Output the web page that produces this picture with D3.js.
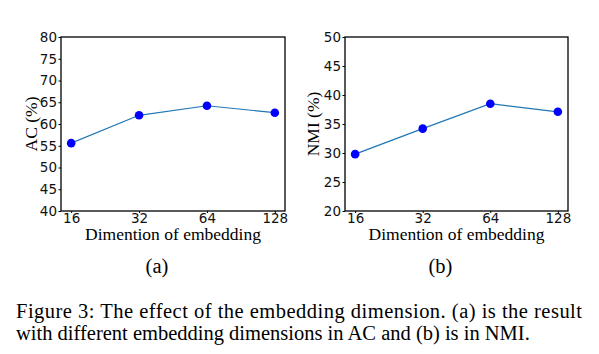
<!DOCTYPE html>
<html>
<head>
<meta charset="utf-8">
<script src="https://cdn.jsdelivr.net/npm/d3@7"></script>
<style>
body { margin: 0; background: #fff; }
svg { display: block; }
</style>
</head>
<body>
<svg id="board" width="599" height="354"></svg>
<script>
board = d3.select('#board')

// data
dims = ['16', '32', '64', '128'];
ac_values = [55.6, 62.0, 64.2, 62.6];
nmi_values = [29.8, 34.2, 38.5, 37.1];
ac_ticks = [40, 45, 50, 55, 60, 65, 70, 75, 80];
nmi_ticks = [20, 25, 30, 35, 40, 45, 50];

panels = [
    {values: ac_values, ticks: ac_ticks, ylabel: 'AC (%)', sub: '(a)',
     left: 61, right: 285, top: 37, bottom: 211, labelx: 36.5},
    {values: nmi_values, ticks: nmi_ticks, ylabel: 'NMI (%)', sub: '(b)',
     left: 345, right: 568, top: 37, bottom: 211, labelx: 319}
];

panels.forEach(function(p){
    g = board.append('g');
    ticks = p.ticks;
    x = d3.scaleLinear().domain([-0.15, dims.length - 1 + 0.15]).range([p.left, p.right]);
    y = d3.scaleLinear().domain([ticks[0], ticks[ticks.length-1]]).range([p.bottom, p.top]);

    yAxis = g.append('g')
        .attr('transform', `translate(${p.left},0)`)
        .call(d3.axisLeft(y).tickValues(ticks).tickSize(2.5).tickPadding(1.5));
    xAxis = g.append('g')
        .attr('transform', `translate(0,${p.bottom})`)
        .call(d3.axisBottom(x).tickValues(d3.range(dims.length)).tickFormat(i => dims[i]).tickSize(2).tickPadding(0));

    [yAxis, xAxis].forEach(function(a){
        a.select('.domain').remove();
        a.selectAll('line').attr('stroke', '#000').attr('stroke-width', 1);
        a.selectAll('text')
            .attr('fill', '#111')
            .style('font-family', 'DejaVu Sans')
            .style('font-size', '13.5px');
    });

    g.append('rect')
        .attr('x', p.left).attr('y', p.top)
        .attr('width', p.right - p.left).attr('height', p.bottom - p.top)
        .attr('fill', 'none').attr('stroke', '#000').attr('stroke-width', 1.3);

    line = d3.line().x((d, i) => x(i)).y(d => y(d));
    g.append('path')
        .attr('d', line(p.values))
        .attr('fill', 'none').attr('stroke', '#1f77b4').attr('stroke-width', 1.2);

    g.selectAll('circle').data(p.values).enter().append('circle')
        .attr('cx', (d, i) => x(i))
        .attr('cy', d => y(d))
        .attr('r', 4.3)
        .attr('fill', '#0000ff');

    g.append('text')
        .attr('transform', `translate(${p.labelx},${(p.top + p.bottom)/2}) rotate(-90)`)
        .attr('text-anchor', 'middle')
        .style('font-family', 'Liberation Serif')
        .style('font-size', '17.5px')
        .text(p.ylabel);

    g.append('text')
        .attr('x', (p.left + p.right)/2)
        .attr('y', 240)
        .attr('text-anchor', 'middle')
        .style('font-family', 'Liberation Serif')
        .style('font-size', '17.5px')
        .text('Dimention of embedding');

    g.append('text')
        .attr('x', (p.left + p.right)/2 - 16)
        .attr('y', 273)
        .attr('text-anchor', 'middle')
        .style('font-family', 'Liberation Serif')
        .style('font-size', '20.5px')
        .text(p.sub);
});

caption = ['Figure 3: The effect of the embedding dimension. (a) is the result',
           'with different embedding dimensions in AC and (b) is in NMI.'];
board.append('text')
    .attr('x', 16).attr('y', 318)
    .attr('textLength', 566)
    .attr('lengthAdjust', 'spacing')
    .style('font-family', 'Liberation Serif')
    .style('font-size', '20.5px')
    .text(caption[0]);
board.append('text')
    .attr('x', 16).attr('y', 339.5)
    .style('font-family', 'Liberation Serif')
    .style('font-size', '20.5px')
    .text(caption[1]);
</script>
</body>
</html>
